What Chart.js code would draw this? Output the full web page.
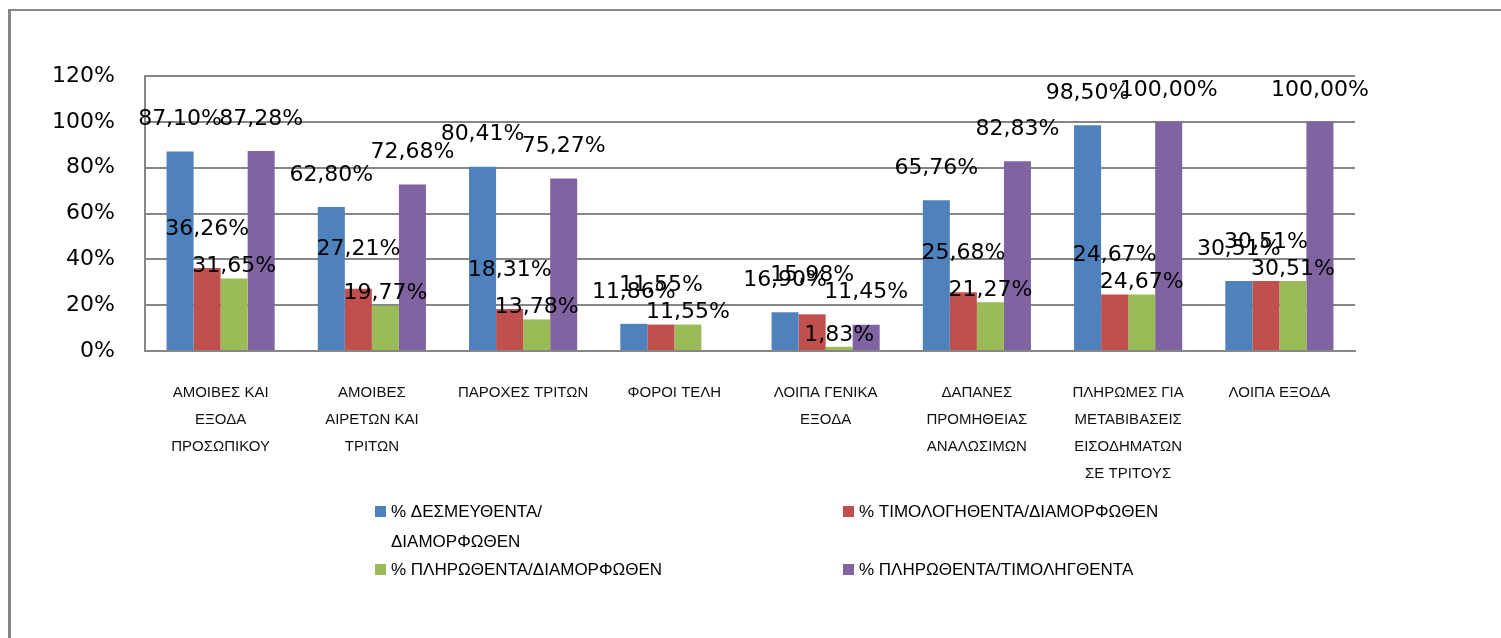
<!DOCTYPE html>
<html lang="el">
<head>
    <meta charset="UTF-8">
    <title>Ποσοστά εκτέλεσης προϋπολογισμού</title>
    <style>
        html, body {
            margin: 0;
            padding: 0;
            background: #ffffff;
        }

        .chart-box {
            width: 1501px;
            height: 638px;
            position: relative;
        }
    </style>
</head>
<body>
    <div class="chart-box">
        <canvas id="budgetChart" width="1501" height="638"></canvas>
    </div>

    <script src="https://cdn.jsdelivr.net/npm/chart.js"></script>
    <script>
        // categories (line breaks as in the original)
        const categories = [
            ['ΑΜΟΙΒΕΣ ΚΑΙ', 'ΕΞΟΔΑ', 'ΠΡΟΣΩΠΙΚΟΥ'],
            ['ΑΜΟΙΒΕΣ', 'ΑΙΡΕΤΩΝ ΚΑΙ', 'ΤΡΙΤΩΝ'],
            ['ΠΑΡΟΧΕΣ ΤΡΙΤΩΝ'],
            ['ΦΟΡΟΙ ΤΕΛΗ'],
            ['ΛΟΙΠΑ ΓΕΝΙΚΑ', 'ΕΞΟΔΑ'],
            ['ΔΑΠΑΝΕΣ', 'ΠΡΟΜΗΘΕΙΑΣ', 'ΑΝΑΛΩΣΙΜΩΝ'],
            ['ΠΛΗΡΩΜΕΣ ΓΙΑ', 'ΜΕΤΑΒΙΒΑΣΕΙΣ', 'ΕΙΣΟΔΗΜΑΤΩΝ', 'ΣΕ ΤΡΙΤΟΥΣ'],
            ['ΛΟΙΠΑ ΕΞΟΔΑ']
        ];

        const seriesNames = [
            ['% ΔΕΣΜΕΥΘΕΝΤΑ/', 'ΔΙΑΜΟΡΦΩΘΕΝ'],
            ['% ΤΙΜΟΛΟΓΗΘΕΝΤΑ/ΔΙΑΜΟΡΦΩΘΕΝ'],
            ['% ΠΛΗΡΩΘΕΝΤΑ/ΔΙΑΜΟΡΦΩΘΕΝ'],
            ['% ΠΛΗΡΩΘΕΝΤΑ/ΤΙΜΟΛΗΓΘΕΝΤΑ']
        ];

        const committed = [87.10, 62.80, 80.41, 11.86, 16.90, 65.76, 98.50, 30.51];
        const invoiced = [36.26, 27.21, 18.31, 11.55, 15.98, 25.68, 24.67, 30.51];
        const paid = [31.65, 19.77, 13.78, 11.55, 1.83, 21.27, 24.67, 30.51];
        const paidOfInvoiced = [87.28, 72.68, 75.27, null, 11.45, 82.83, 100.00, 100.00];

        const yTicks = [0, 20, 40, 60, 80, 100, 120];

        const colors = ['#4F81BD', '#C0504D', '#9BBB59', '#8064A2'];
        const labelLift = [32, 39, 12, 32];   // how far each series' value label sits above its bar
        const gridGray = '#868686';

        // frame round the whole chart (left and top edge only, as in the picture)
        const framePlugin = {
            id: 'frame',
            beforeDraw(chart) {
                const c = chart.ctx;
                c.save();
                c.strokeStyle = gridGray;
                c.lineWidth = 3;
                c.beginPath();
                c.moveTo(9.5, 10);
                c.lineTo(9.5, 638);
                c.stroke();
                c.lineWidth = 2;
                c.beginPath();
                c.moveTo(8, 10);
                c.lineTo(1501, 10);
                c.stroke();
                c.restore();
            }
        };

        // value labels above the bars
        const valueLabels = {
            id: 'valueLabels',
            afterDatasetsDraw(chart) {
                const c = chart.ctx;
                c.save();
                c.font = '22px "DejaVu Sans"';
                c.fillStyle = '#000';
                c.textAlign = 'center';
                c.textBaseline = 'middle';
                chart.data.datasets.forEach((ds, i) => {
                    chart.getDatasetMeta(i).data.forEach((bar, j) => {
                        const v = ds.data[j];
                        if (v === null) return;
                        const txt = v.toFixed(2).replace('.', ',') + '%';
                        c.fillText(txt, bar.x, bar.y - labelLift[i]);
                    });
                });
                c.restore();
            }
        };

        // two-column legend under the axis
        const legendPlugin = {
            id: 'twoColLegend',
            afterDraw(chart) {
                const c = chart.ctx;
                const colX = [375, 843];
                const lineH = 30;
                let rowY = 512;
                c.save();
                c.font = '17px "Liberation Sans"';
                c.textBaseline = 'middle';
                c.textAlign = 'left';
                for (let r = 0; r < seriesNames.length; r += 2) {
                    let maxLines = 1;
                    for (let k = 0; k < 2; k++) {
                        const idx = r + k;
                        if (idx >= seriesNames.length) break;
                        const lines = seriesNames[idx];
                        maxLines = Math.max(maxLines, lines.length);
                        c.fillStyle = colors[idx];
                        c.fillRect(colX[k], rowY - 6, 11, 11);
                        c.fillStyle = '#000';
                        lines.forEach((ln, li) => {
                            c.fillText(ln, colX[k] + 16, rowY + li * lineH);
                        });
                    }
                    rowY += maxLines * lineH - 2;
                }
                c.restore();
            }
        };

        const ctx = document.getElementById('budgetChart').getContext('2d');
        const budgetChart = new Chart(ctx, {
            type: 'bar',
            data: {
                labels: categories,
                datasets: [
                    { label: seriesNames[0].join(''), data: committed, backgroundColor: colors[0] },
                    { label: seriesNames[1].join(''), data: invoiced, backgroundColor: colors[1] },
                    { label: seriesNames[2].join(''), data: paid, backgroundColor: colors[2] },
                    { label: seriesNames[3].join(''), data: paidOfInvoiced, backgroundColor: colors[3] }
                ]
            },
            options: {
                responsive: false,
                animation: false,
                devicePixelRatio: 1,
                layout: {
                    padding: { left: 0, right: 146, top: 76, bottom: 0 }
                },
                datasets: {
                    bar: {
                        categoryPercentage: 0.715,
                        barPercentage: 1.0,
                        borderWidth: 0
                    }
                },
                plugins: {
                    legend: { display: false },
                    tooltip: { enabled: false }
                },
                scales: {
                    x: {
                        grid: { display: false, drawTicks: false },
                        border: { display: true, color: gridGray, width: 2 },
                        ticks: {
                            color: '#111',
                            padding: 28,
                            maxRotation: 0,
                            autoSkip: false,
                            font: { family: 'Liberation Sans', size: 15, lineHeight: 1.8 }
                        },
                        afterFit(scale) {
                            scale.height = 287;
                        }
                    },
                    y: {
                        min: 0,
                        max: 120,
                        afterBuildTicks(scale) {
                            scale.ticks = yTicks.map(v => ({ value: v }));
                        },
                        grid: { color: gridGray, lineWidth: 2, drawTicks: false },
                        border: { display: true, color: gridGray, width: 2 },
                        ticks: {
                            color: '#000',
                            padding: 30,
                            font: { family: 'DejaVu Sans', size: 22 },
                            callback: v => v + '%'
                        },
                        afterFit(scale) {
                            scale.width = 145;
                        }
                    }
                }
            },
            plugins: [framePlugin, valueLabels, legendPlugin]
        });
    </script>
</body>
</html>
